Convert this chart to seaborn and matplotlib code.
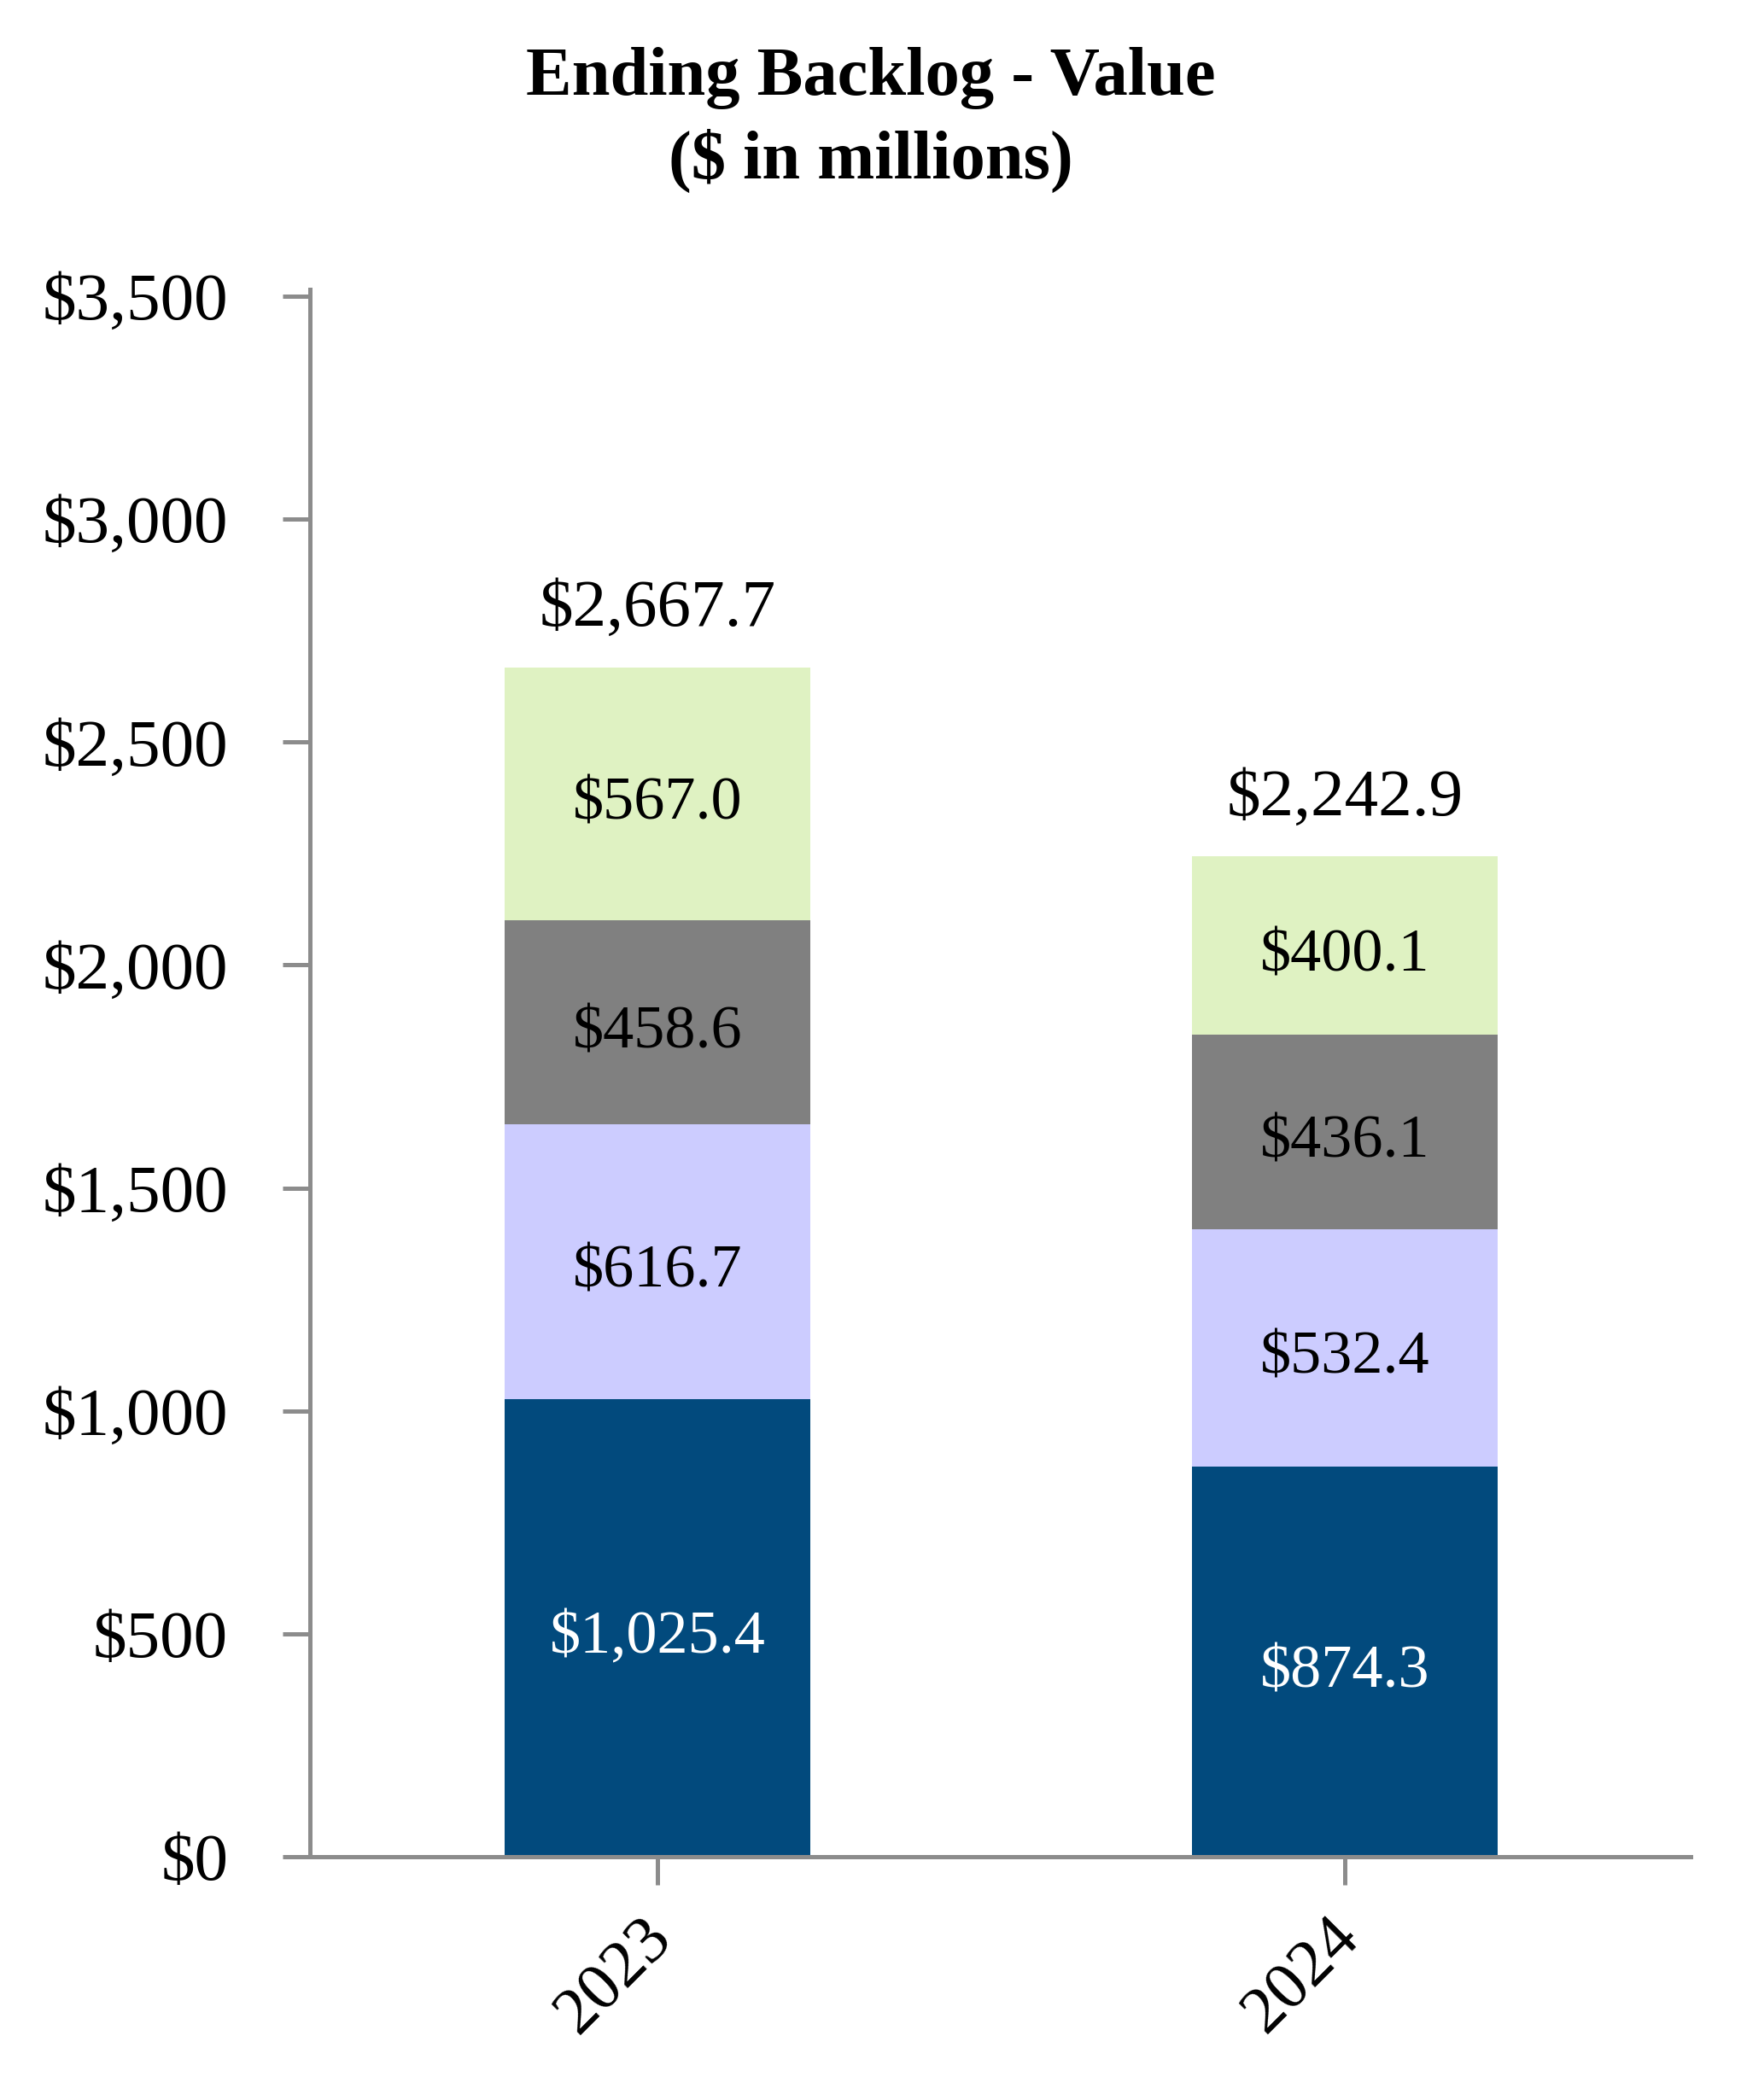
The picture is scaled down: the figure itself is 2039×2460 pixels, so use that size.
import matplotlib
matplotlib.use("Agg")
import matplotlib.pyplot as plt
import matplotlib.transforms as mtransforms
import seaborn as sns
import pandas as pd
import numpy as np

# ---- data ----
years = ["2023", "2024"]
seg1 = [1025.4, 874.3]   # navy (bottom)
seg2 = [616.7, 532.4]    # lavender
seg3 = [458.6, 436.1]    # gray
seg4 = [567.0, 400.1]    # light green (top)
totals = [2667.7, 2242.9]
y_ticks = [0, 500, 1000, 1500, 2000, 2500, 3000, 3500]

colors = ["#024A7D", "#CCCCFF", "#808080", "#DFF2C2"]
label_colors = ["white", "black", "black", "black"]

sns.set_theme(style="white")
plt.rcParams["font.family"] = ["Liberation Serif", "DejaVu Serif"]

DPI = 100
W, H = 2040, 2460
fig = plt.figure(figsize=(W/DPI, H/DPI), dpi=DPI)
ax_l, ax_r, ax_b, ax_t = 363, 1980, 2175, 339
ax = fig.add_axes([ax_l/W, 1 - ax_b/H, (ax_r-ax_l)/W, (ax_b-ax_t)/H])

segs = [seg1, seg2, seg3, seg4]
cum = np.cumsum(np.array(segs), axis=0)
# draw cumulative bars from tallest to shortest so they stack visually
for i in range(3, -1, -1):
    df = pd.DataFrame({"year": years, "value": cum[i]})
    sns.barplot(data=df, x="year", y="value", color=colors[i], width=0.445,
                saturation=1, ax=ax, linewidth=0, order=years)

fs_tick = 57
fs_seg = 52
seg_tr = mtransforms.offset_copy(ax.transData, fig=fig, x=0, y=-12, units="dots")
tot_tr = mtransforms.offset_copy(ax.transData, fig=fig, x=0, y=-6, units="dots")
for j in range(len(years)):
    bottom = 0
    for i in range(4):
        v = segs[i][j]
        ax.text(j, bottom + v/2, f"${v:,.1f}", ha="center", va="center",
                fontsize=fs_seg, color=label_colors[i], transform=seg_tr)
        bottom += v
    ax.text(j, totals[j] + 140, f"${totals[j]:,.1f}", ha="center", va="center",
            fontsize=fs_tick, color="black", transform=tot_tr)

ax.set_xlim(-0.506, 1.503)
ax.set_ylim(0, 3515)
ax.set_yticks(y_ticks)
ax.set_yticklabels([f"${t:,.0f}" for t in y_ticks])
ax.set_xlabel("")
ax.set_ylabel("")

spine_c = "#8C8C8C"
for s in ["top", "right"]:
    ax.spines[s].set_visible(False)
for s in ["left", "bottom"]:
    ax.spines[s].set_color(spine_c)
    ax.spines[s].set_linewidth(3.6)

ax.tick_params(axis="y", direction="out", length=23, width=3.6, color=spine_c,
               pad=46, labelsize=fs_tick, labelcolor="black", left=True)
ax.tick_params(axis="x", direction="out", length=24, width=3.6, color=spine_c,
               pad=18, labelsize=fs_tick, labelcolor="black", bottom=True)
shift = mtransforms.ScaledTranslation(-20/DPI, 0, fig.dpi_scale_trans)
for lab in ax.get_xticklabels():
    lab.set_rotation(45)
    lab.set_ha("right")
    lab.set_rotation_mode("anchor")
    lab.set_transform(lab.get_transform() + shift)

fig.text(0.5, 1 - 91/H, "Ending Backlog - Value", ha="center", va="center",
         fontsize=58, fontweight="bold", color="black")
fig.text(0.5, 1 - 188/H, "($ in millions)", ha="center", va="center",
         fontsize=58, fontweight="bold", color="black")

fig.savefig("out.png", dpi=DPI, facecolor="white")
